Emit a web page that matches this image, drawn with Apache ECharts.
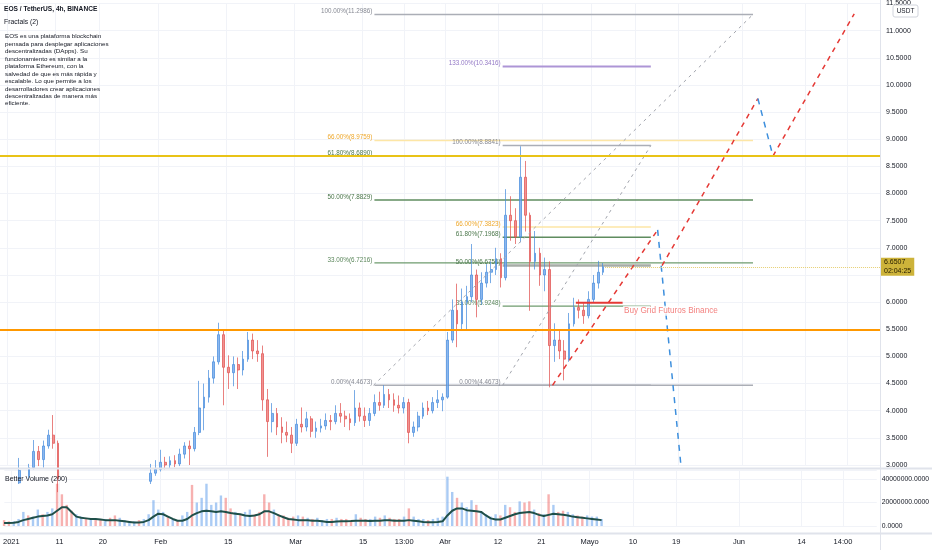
<!DOCTYPE html>
<html>
<head>
<meta charset="utf-8">
<script src="https://cdn.jsdelivr.net/npm/echarts@6/dist/echarts.min.js"></script>
<style>
html,body{margin:0;padding:0;background:#fff;}
#c{width:932px;height:550px;}
</style>
</head>
<body>
<div id="c"></div>
<script>
// ---------- DATA (daily summary of the 4h chart) ----------
const dates = [
'2020-12-30','2020-12-31','2021-01-01','2021-01-02','2021-01-03','2021-01-04','2021-01-05','2021-01-06','2021-01-07','2021-01-08',
'2021-01-09','2021-01-10','2021-01-11','2021-01-12','2021-01-13','2021-01-14','2021-01-15','2021-01-16','2021-01-17','2021-01-18',
'2021-01-19','2021-01-20','2021-01-21','2021-01-22','2021-01-23','2021-01-24','2021-01-25','2021-01-26','2021-01-27','2021-01-28',
'2021-01-29','2021-01-30','2021-01-31','2021-02-01','2021-02-02','2021-02-03','2021-02-04','2021-02-05','2021-02-06','2021-02-07',
'2021-02-08','2021-02-09','2021-02-10','2021-02-11','2021-02-12','2021-02-13','2021-02-14','2021-02-15','2021-02-16','2021-02-17',
'2021-02-18','2021-02-19','2021-02-20','2021-02-21','2021-02-22','2021-02-23','2021-02-24','2021-02-25','2021-02-26','2021-02-27',
'2021-02-28','2021-03-01','2021-03-02','2021-03-03','2021-03-04','2021-03-05','2021-03-06','2021-03-07','2021-03-08','2021-03-09',
'2021-03-10','2021-03-11','2021-03-12','2021-03-13','2021-03-14','2021-03-15','2021-03-16','2021-03-17','2021-03-18','2021-03-19',
'2021-03-20','2021-03-21','2021-03-22','2021-03-23','2021-03-24','2021-03-25','2021-03-26','2021-03-27','2021-03-28','2021-03-29',
'2021-03-30','2021-03-31','2021-04-01','2021-04-02','2021-04-03','2021-04-04','2021-04-05','2021-04-06','2021-04-07','2021-04-08',
'2021-04-09','2021-04-10','2021-04-11','2021-04-12','2021-04-13','2021-04-14','2021-04-15','2021-04-16','2021-04-17','2021-04-18',
'2021-04-19','2021-04-20','2021-04-21','2021-04-22','2021-04-23','2021-04-24','2021-04-25','2021-04-26','2021-04-27','2021-04-28',
'2021-04-29','2021-04-30','2021-05-01','2021-05-02','2021-05-03'];
const opens = [
2.65,2.62,2.60,2.62,2.67,2.90,2.80,2.95,3.25,3.10,
3.35,3.55,3.40,2.75,2.70,2.62,2.75,2.82,2.78,2.80,
2.75,2.68,2.70,2.55,2.40,2.55,2.58,2.60,2.62,2.55,
2.60,2.70,2.85,2.92,3.05,3.00,3.08,3.02,3.20,3.35,
3.30,3.60,4.05,4.25,4.60,4.90,5.40,4.80,4.70,4.85,
4.75,4.95,5.30,5.10,5.05,4.20,3.80,3.95,3.70,3.60,
3.55,3.40,3.75,3.70,3.85,3.62,3.68,3.72,3.82,3.80,
3.95,3.90,3.85,3.78,4.05,3.90,3.82,3.95,4.15,4.10,
4.30,4.20,4.10,4.05,4.15,3.60,3.70,3.90,4.05,4.00,
4.15,4.20,4.25,5.30,5.85,5.60,6.00,6.10,6.50,6.05,
6.35,6.55,6.60,6.80,6.45,7.60,7.50,7.20,8.30,7.60,
6.75,6.90,6.50,6.60,5.20,5.30,5.10,4.95,5.60,5.90,
5.85,5.75,6.05,6.35,6.55];
const highs = [
2.70,2.68,2.70,2.75,3.13,2.98,3.02,3.46,3.35,3.45,
3.65,3.92,3.45,2.95,2.85,2.85,2.95,2.92,2.90,2.88,
2.82,2.78,2.75,2.60,2.62,2.65,2.70,2.72,2.70,2.68,
2.82,3.02,3.09,3.28,3.15,3.16,3.18,3.30,3.42,3.45,
3.70,4.55,4.50,4.75,5.00,5.62,5.50,5.02,5.00,4.98,
5.10,5.45,5.42,5.30,5.20,4.40,4.14,4.05,3.88,3.80,
3.70,3.85,4.06,3.98,3.90,3.80,3.85,3.95,3.92,4.10,
4.14,4.00,3.95,4.38,4.15,4.06,4.05,4.30,4.35,4.47,
4.40,4.32,4.28,4.25,4.22,3.80,3.98,4.15,4.18,4.25,
4.38,4.32,5.45,6.05,6.34,6.25,6.30,7.07,6.60,6.55,
6.70,6.75,7.00,6.90,8.08,7.95,7.73,8.87,8.60,7.65,
7.31,7.00,6.82,6.75,5.61,5.50,5.30,5.80,6.08,6.05,
5.98,6.20,6.50,6.76,6.72];
const lows = [
2.55,2.55,2.55,2.50,2.65,2.60,2.75,2.92,2.98,2.95,
3.30,3.30,2.50,2.55,2.55,2.55,2.70,2.70,2.70,2.68,
2.60,2.58,2.45,2.25,2.35,2.48,2.50,2.52,2.45,2.50,
2.55,2.65,2.80,2.88,2.92,2.94,2.96,2.98,3.12,3.00,
3.25,3.55,3.64,4.15,4.50,4.85,4.10,4.40,4.45,4.40,
4.65,4.90,4.95,4.90,4.00,3.15,3.60,3.55,3.40,3.42,
3.22,3.35,3.60,3.62,3.51,3.50,3.60,3.65,3.64,3.75,
3.78,3.70,3.64,3.72,3.80,3.70,3.72,3.90,4.00,4.05,
4.05,3.98,3.95,3.95,3.40,3.52,3.62,3.85,3.92,3.95,
4.05,3.99,4.22,5.25,5.17,5.50,5.48,6.00,5.72,5.95,
6.27,6.35,6.50,6.27,6.40,7.13,7.07,7.10,7.30,5.84,
6.60,6.30,6.20,4.43,4.90,4.95,4.56,4.90,5.55,5.70,
5.60,5.70,6.00,6.25,6.50];
const closes = [
2.62,2.60,2.62,2.67,2.90,2.80,2.95,3.25,3.10,3.35,
3.55,3.40,2.75,2.70,2.62,2.75,2.82,2.78,2.80,2.75,
2.68,2.70,2.55,2.40,2.55,2.58,2.60,2.62,2.55,2.60,
2.70,2.85,2.92,3.05,3.00,3.08,3.02,3.20,3.35,3.30,
3.60,4.05,4.25,4.60,4.90,5.40,4.80,4.70,4.85,4.75,
4.95,5.30,5.10,5.05,4.20,3.80,3.95,3.70,3.60,3.55,
3.40,3.75,3.70,3.85,3.62,3.68,3.72,3.82,3.80,3.95,
3.90,3.85,3.78,4.05,3.90,3.82,3.95,4.15,4.10,4.30,
4.20,4.10,4.05,4.15,3.60,3.70,3.90,4.05,4.00,4.15,
4.20,4.25,5.30,5.85,5.60,6.00,6.10,6.50,6.05,6.35,
6.55,6.60,6.80,6.45,7.60,7.50,7.20,8.30,7.60,6.75,
6.90,6.50,6.60,5.20,5.30,5.10,4.95,5.60,5.90,5.85,
5.75,6.05,6.35,6.55,6.6507];
// volume in millions (typical 4h bar peak per day)
const volumes = [
5,4,4,6,12,9,8,14,10,12,
15,36,27,18,13,10,8,7,6,6,
5,6,7,9,7,5,4,4,5,6,
10,22,14,12,8,6,5,9,12,35,
20,24,36,18,20,26,24,15,12,10,
12,14,10,12,27,20,14,10,9,7,
8,9,8,7,6,7,5,6,6,7,
6,6,5,10,7,6,6,8,7,9,
7,6,6,8,15,8,6,6,5,6,
7,8,42,29,24,20,16,22,18,12,
10,8,10,9,18,16,12,21,20,21,
14,11,10,27,18,12,13,12,10,9,
8,9,8,8,6];
const volumeMA = [
2.5,2.5,2.8,3.5,5,6,7,8,8.5,9,
10,13,16,16,12,8,7,6.5,6,6,
5.5,5,5,5,4.5,4,3.5,3,3,3.5,
5,8,10.5,10,8,6,4.5,4.5,6,9,
11,12.5,13,12.5,12,12.5,12,11,10.5,10,
9,8.5,9,10,12.5,12.5,11,9,7.5,6,
5.5,5,5,4.8,4.5,4.5,4,3.5,3.5,3.8,
4,4,4.2,4.5,4.5,4.5,4.3,4.5,4.5,4.8,
4.8,4.5,4.5,4.5,5,4.5,4,3.5,3.2,3.2,
3.5,4,9,13,15,15,13.5,13,12.5,12,
9,6.5,5.5,5.5,7,8.5,10,11,11.5,12,
11,9.5,8.5,9.5,10.5,10,9.5,9,8,7.5,
7,6.5,6,5.5,5];

// x-axis tick labels (days after 2021-01-01)
const xTickDays   = [0, 10, 19, 31, 45, 59, 73, 81.54, 90, 101, 110, 120, 129, 138, 151, 164, 172.58];
const xTickLabels = ['2021','11','20','Feb','15','Mar','15','13:00','Abr','12','21','Mayo','10','19','Jun','14','14:00'];

// Fibonacci retracement drawings (x in days after 2021-01-01)
const fib1Range  = [75.5, 153.3];
const fib1Levels = ['100.00%','66.00%','61.80%','50.00%','33.00%','0.00%'];
const fib1Prices = [11.2986, 8.9759, 8.6890, 7.8829, 6.7216, 4.4673];
const fib1Trend  = [[75.3, 4.4673], [153.3, 11.2986]];
const fib2Range  = [101.85, 132.3];
const fib2Levels = ['133.00%','100.00%','66.00%','61.80%','50.00%','33.00%','0.00%'];
const fib2Prices = [10.3416, 8.8841, 7.3823, 7.1968, 6.6756, 5.9248, 4.4673];
const fib2Trend  = [[101.85, 4.4673], [132.3, 8.8841]];

// projected paths
const redPaths  = [[[112.1, 4.468], [133.7, 7.33]], [[134.6, 6.67], [154.3, 9.75]], [[157.4, 8.69], [174.1, 11.31]]];
const bluePaths = [[[133.7, 7.33], [138.5, 2.98]], [[154.3, 9.75], [157.4, 8.69]]];

// horizontal levels and notes
const supportLevel = 5.5;
const resistanceLevel = 8.70;
const buyGrid = [[116.9, 5.99], [126.5, 5.99]];
const buyNote = { text: 'Buy Grid Futuros Binance', at: [126.6, 5.84] };
const countdown = '02:04:25';
const titleText = 'EOS / TetherUS, 4h, BINANCE';
const indicatorText = 'Fractals (2)';
const volumeTitle = 'Better Volume (200)';
const noteLines = [
'EOS es una plataforma blockchain',
'pensada para desplegar aplicaciones',
'descentralizadas (DApps). Su',
'funcionamiento es similar a la',
'plataforma Ethereum, con la',
'salvedad de que es más rápida y',
'escalable. Lo que permite a los',
'desarrolladores crear aplicaciones',
'descentralizadas de manera más',
'eficiente.'];

// ---------- BUILD ----------
const FONT = 'Liberation Sans, Arial, sans-serif';
const X_MIN = -1.44, X_MAX = 179.6;
const DAY0 = Date.UTC(2021, 0, 1);
const dayOf = s => (Date.parse(s + 'T00:00:00Z') - DAY0) / 864e5;
const xs = dates.map(d => dayOf(d) + 0.5);
const candleData = dates.map((d, i) => [xs[i], opens[i], closes[i], lows[i], highs[i]]);
const last = closes.length - 1;
const lastClose = closes[last];

const volData = dates.map((d, i) => ({
  value: [xs[i], volumes[i]],
  itemStyle: { color: closes[i] >= opens[i] ? 'rgba(100,160,235,0.55)' : 'rgba(239,100,98,0.5)' }
}));
const maData = dates.map((d, i) => [xs[i], volumeMA[i]]);

const levelStyle = {
  '133.00%': { line: '#ad95d6', label: '#9479c6', w: 2 },
  '100.00%': { line: '#abaeb6', label: '#868993', w: 1.5 },
  '66.00%':  { line: '#fde6a6', label: '#eea72a', w: 1.5 },
  '61.80%':  { line: '#5f8c5f', label: '#4a764a', w: 1.5 },
  '50.00%':  { line: '#5f8c5f', label: '#4a764a', w: 1.5 },
  '33.00%':  { line: '#6e9b6e', label: '#5a865a', w: 1.2 },
  '0.00%':   { line: '#abaeb6', label: '#868993', w: 1.5 }
};

function fibSeries(levels, prices, range, override) {
  return levels.map((lv, i) => {
    const st = Object.assign({}, levelStyle[lv], (override && override[lv]) || {});
    return {
      type: 'line', xAxisIndex: 0, yAxisIndex: 0, z: 1, silent: true,
      symbol: 'circle', symbolSize: 0, showSymbol: true,
      lineStyle: { color: st.line, width: st.w },
      label: { show: false },
      data: [
        { value: [range[0], prices[i]],
          label: { show: true, position: 'left', distance: 2, offset: [0, -3],
                   formatter: lv + '(' + prices[i].toFixed(4) + ')',
                   color: st.label, fontSize: 6.3, fontFamily: FONT } },
        [range[1], prices[i]]
      ]
    };
  });
}

function pathSeries(pts, color, dash, width) {
  return {
    type: 'line', xAxisIndex: 0, yAxisIndex: 0, z: 3, silent: true, symbol: 'none',
    lineStyle: { color: color, width: width, type: dash }, data: pts
  };
}

const series = [];
series.push({
  type: 'line', xAxisIndex: 0, yAxisIndex: 0, data: [], z: 4, silent: true,
  markLine: {
    silent: true, symbol: ['none', 'none'], animation: false,
    label: { show: false },
    data: [
      { yAxis: supportLevel, lineStyle: { color: '#ff9800', width: 2, type: 'solid' } },
      { yAxis: resistanceLevel, lineStyle: { color: '#e9c317', width: 2, type: 'solid' } }
    ]
  }
});
series.push(...fibSeries(fib1Levels, fib1Prices, fib1Range));
series.push(...fibSeries(fib2Levels, fib2Prices, fib2Range, { '50.00%': { line: '#a7ada7', w: 2.5 } }));
series.push(pathSeries(fib1Trend, '#a3a6ae', [3, 4], 1));
series.push(pathSeries(fib2Trend, '#a3a6ae', [3, 4], 1));
redPaths.forEach(p => series.push(pathSeries(p, '#e53935', [5, 5], 1.5)));
bluePaths.forEach(p => series.push(pathSeries(p, '#3d8fdd', [6, 6], 1.5)));
series.push({
  type: 'line', xAxisIndex: 0, yAxisIndex: 0, z: 4, silent: true, symbol: 'none',
  lineStyle: { color: '#e53935', width: 2 }, data: buyGrid
});
series.push({
  type: 'scatter', xAxisIndex: 0, yAxisIndex: 0, z: 5, silent: true, symbolSize: 0,
  data: [buyNote.at],
  label: { show: true, position: 'right', distance: 0, formatter: buyNote.text,
           color: '#f0625f', fontSize: 8.2, fontFamily: FONT, backgroundColor: '#ffffff', padding: [1, 1] }
});
series.push({
  type: 'candlestick', xAxisIndex: 0, yAxisIndex: 0, z: 2, silent: true, clip: true,
  barWidth: 2.2,
  encode: { x: 0, y: [1, 2, 3, 4] },
  itemStyle: { color: 'rgba(110,165,235,0.8)', color0: 'rgba(238,120,118,0.8)',
               borderColor: 'rgba(70,140,220,0.9)', borderColor0: 'rgba(225,80,78,0.9)', borderWidth: 0.8 },
  data: candleData,
  markLine: {
    silent: true, symbol: ['none', 'none'], animation: false,
    lineStyle: { color: '#e6cf72', type: 'dotted', width: 1 },
    label: { show: true, position: 'end', distance: 0,
             formatter: lastClose.toFixed(4) + '\n' + countdown,
             backgroundColor: '#cdb33a', color: '#2a2100', fontSize: 7, lineHeight: 8.5,
             padding: [1, 3, 0, 3], fontFamily: FONT },
    data: [[{ coord: [xs[last] + 0.4, lastClose] }, { coord: [X_MAX, lastClose] }]]
  }
});
series.push({
  type: 'bar', xAxisIndex: 1, yAxisIndex: 1, barWidth: 2.4, silent: true, data: volData
});
series.push({
  type: 'line', xAxisIndex: 1, yAxisIndex: 1, symbol: 'none', silent: true, z: 3,
  lineStyle: { color: '#1f4f49', width: 2 }, data: maData
});

const labelFmt = v => {
  const i = xTickDays.findIndex(t => Math.abs(t - v) < 1e-6);
  return i >= 0 ? xTickLabels[i] : '';
};
const gridLine = { show: true, lineStyle: { color: '#f1f3f8', width: 1 } };

const option = {
  animation: false,
  backgroundColor: '#ffffff',
  textStyle: { fontFamily: FONT },
  grid: [
    { left: 0, right: 51, top: 2, height: 463 },
    { left: 0, right: 51, top: 470, height: 56 }
  ],
  xAxis: [
    { type: 'value', gridIndex: 0, min: X_MIN, max: X_MAX,
      axisLine: { show: false }, axisLabel: { show: false },
      axisTick: { show: false, customValues: xTickDays }, splitLine: gridLine },
    { type: 'value', gridIndex: 1, min: X_MIN, max: X_MAX,
      axisLine: { show: false },
      axisTick: { show: false, customValues: xTickDays },
      axisLabel: { show: true, customValues: xTickDays, formatter: labelFmt, color: '#131722',
                   fontSize: 7.5, margin: 12, fontFamily: FONT },
      splitLine: gridLine }
  ],
  yAxis: [
    { type: 'value', gridIndex: 0, position: 'right', min: 3, max: 11.5, interval: 0.5,
      axisLine: { show: false },
      axisTick: { show: false },
      // the price badge hides the tick label it covers
      axisLabel: { formatter: v => (Math.abs(v - lastClose) < 0.2 ? '' : v.toFixed(4)),
                   color: '#131722', fontSize: 7, margin: 5, fontFamily: FONT },
      splitLine: gridLine },
    { type: 'value', gridIndex: 1, position: 'right', min: 0, max: 47.7, interval: 20,
      axisLine: { show: false },
      axisTick: { show: false },
      axisLabel: { formatter: v => (Math.abs(v % 20) < 1e-9 ? (v * 1e6).toFixed(4) : ''),
                   color: '#131722', fontSize: 6.8, margin: 5, fontFamily: FONT },
      splitLine: gridLine }
  ],
  graphic: [
    { type: 'line', z: 50, shape: { x1: 880.5, y1: 0, x2: 880.5, y2: 550 }, style: { stroke: '#e0e3eb', lineWidth: 1 } },
    { type: 'line', z: 50, shape: { x1: 0, y1: 468.5, x2: 932, y2: 468.5 }, style: { stroke: '#e0e3eb', lineWidth: 2 } },
    { type: 'line', z: 50, shape: { x1: 0, y1: 533.5, x2: 932, y2: 533.5 }, style: { stroke: '#e0e3eb', lineWidth: 2 } },
    { type: 'text', z: 60, left: 4, top: 6,
      style: { text: titleText, fontSize: 6.6, fontWeight: 'bold', fill: '#131722', fontFamily: FONT } },
    { type: 'text', z: 60, left: 4, top: 18.5,
      style: { text: indicatorText, fontSize: 6.8, fill: '#131722', fontFamily: FONT } },
    { type: 'text', z: 60, left: 5, top: 33,
      style: { text: noteLines.join('\n'), fontSize: 6.25, lineHeight: 7.45, fill: '#131722', fontFamily: FONT } },
    { type: 'text', z: 60, left: 5, top: 476,
      style: { text: volumeTitle, fontSize: 7, fill: '#131722', fontFamily: FONT } },
    { type: 'rect', z: 70, shape: { x: 893, y: 5, width: 25, height: 12, r: 2 },
      style: { fill: '#ffffff', stroke: '#d1d4dc', lineWidth: 1 } },
    { type: 'text', z: 71, x: 905.5, y: 11,
      style: { text: 'USDT', fontSize: 6.5, fill: '#131722', align: 'center', verticalAlign: 'middle', fontFamily: FONT } }
  ],
  series: series
};

const chart = echarts.init(document.getElementById('c'));
chart.setOption(option);
</script>
</body>
</html>
